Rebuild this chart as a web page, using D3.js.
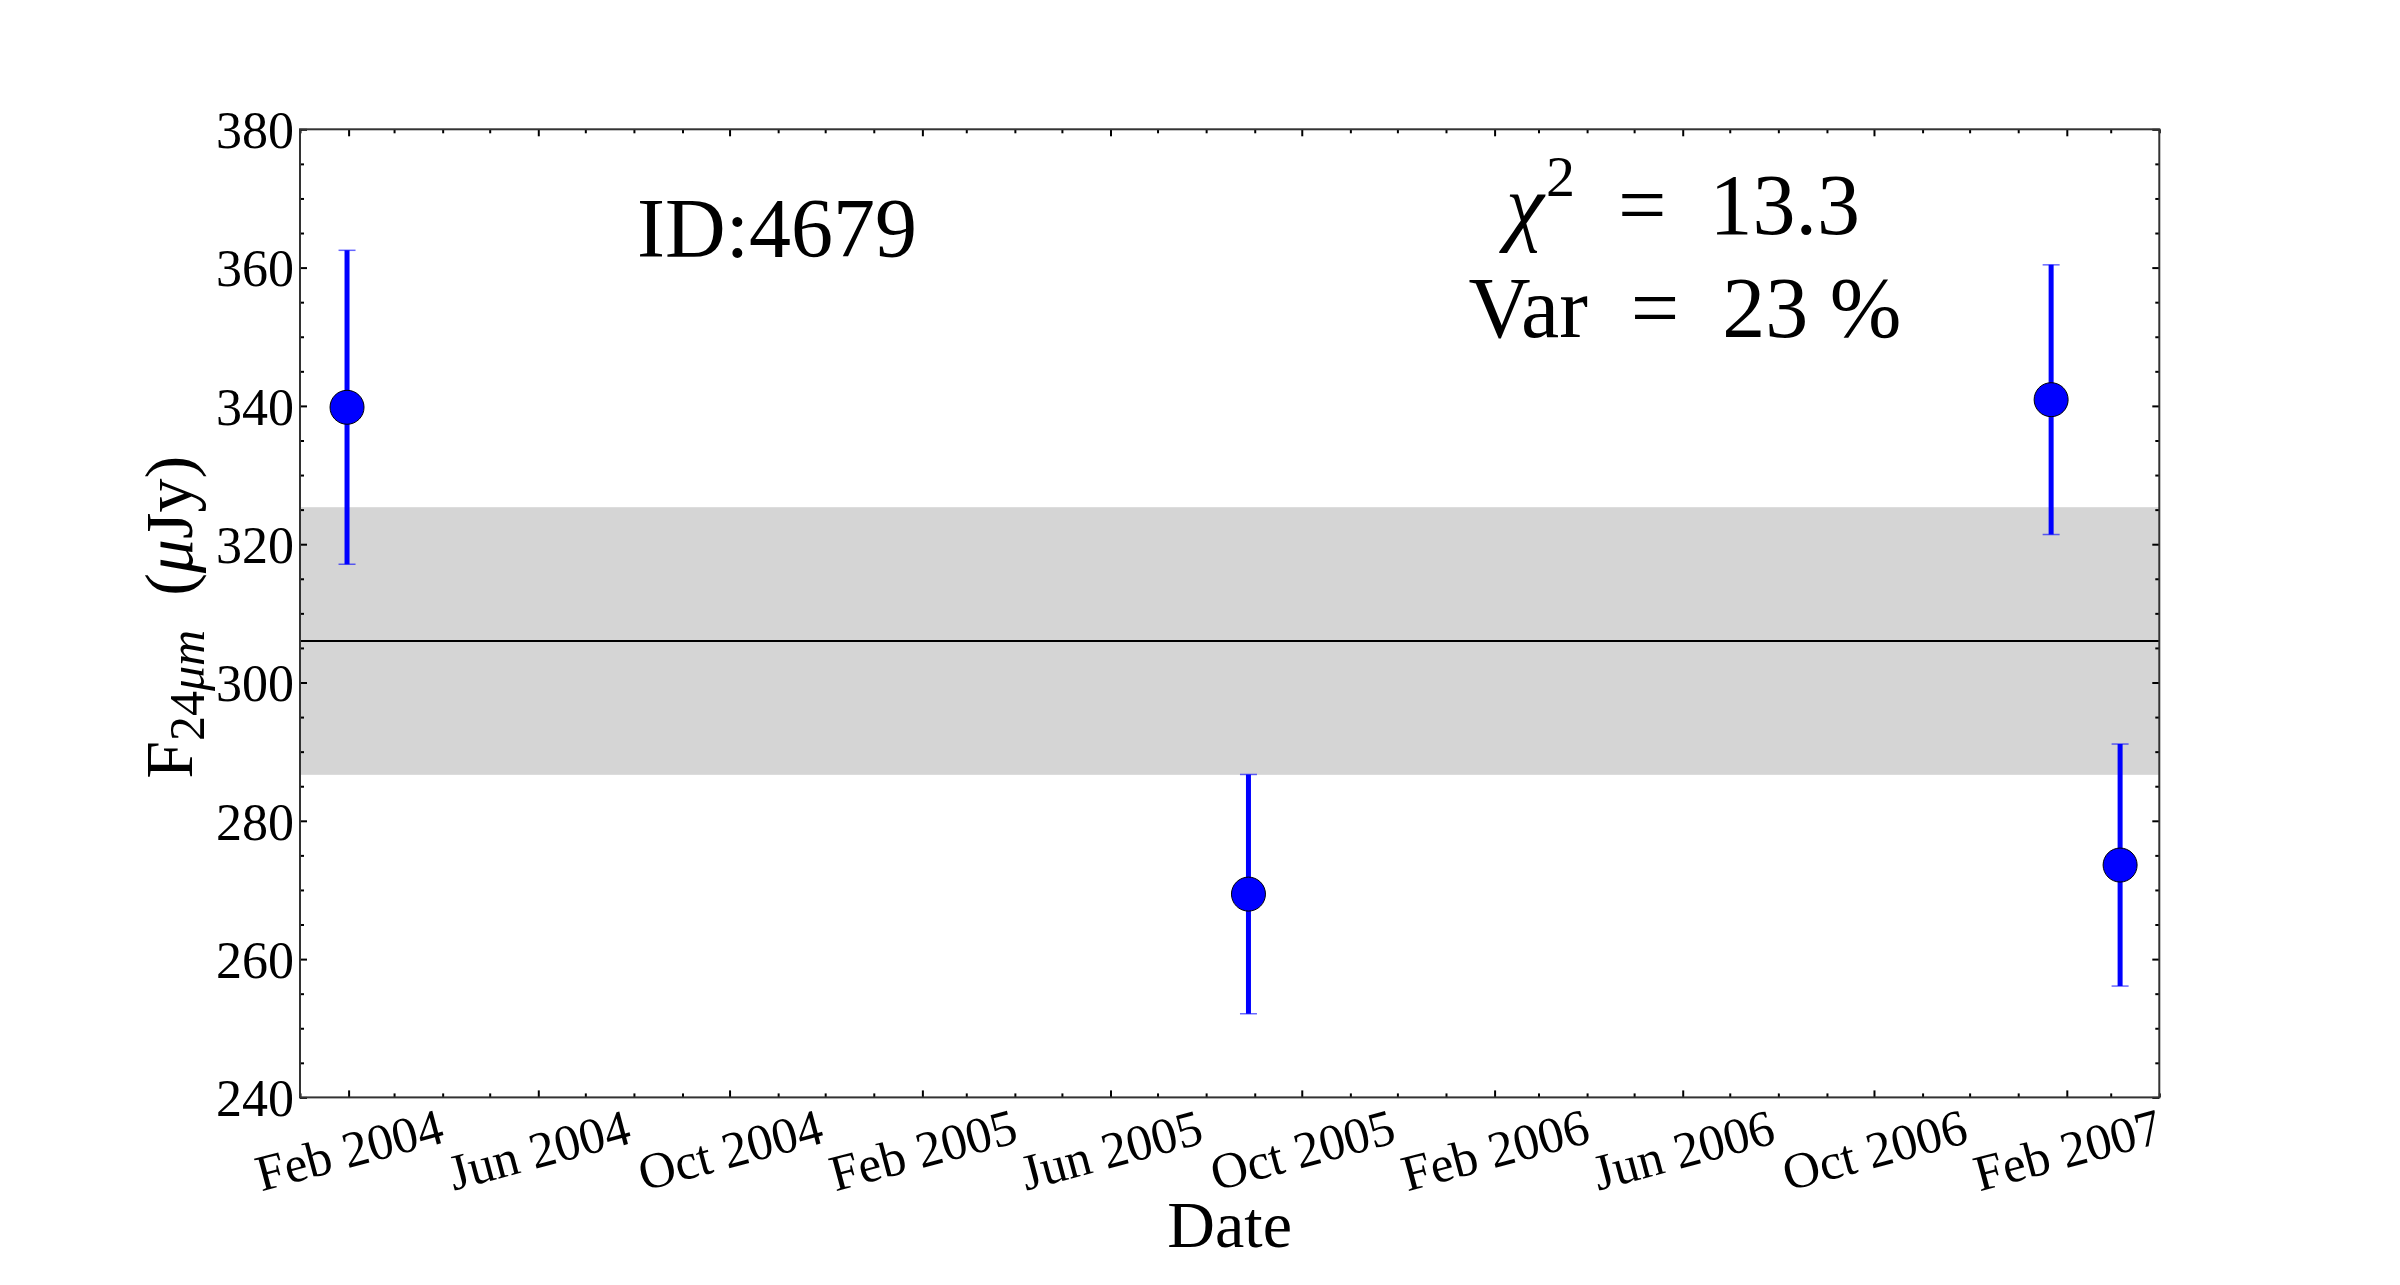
<!DOCTYPE html>
<html>
<head>
<meta charset="utf-8">
<script src="https://cdn.jsdelivr.net/npm/d3@7"></script>
<style>
  body { margin: 0; background: #fff; }
  text { font-family: 'Liberation Serif', 'DejaVu Serif', serif; fill: #000; }
</style>
</head>
<body>
<div class="container"></div>
<script>
// Observations (date, flux, 1-sigma error)
const obsDates = ['2004-01-31', '2005-08-28', '2007-01-22', '2007-03-07'];
const obsFlux = [339.8, 269.4, 340.9, 273.6];
const obsErr = [22.7, 17.3, 19.5, 17.5];
// Weighted mean and its band
const meanFlux = 306.0;
const meanBand = 19.35;
// Axis ranges and ticks
const xDomain = ['2004-01-01', '2007-04-01'];
const yDomain = [240, 380];
const yTicks = [240, 260, 280, 300, 320, 340, 360, 380];
const xTickLabels = ['Feb 2004', 'Jun 2004', 'Oct 2004', 'Feb 2005', 'Jun 2005',
  'Oct 2005', 'Feb 2006', 'Jun 2006', 'Oct 2006', 'Feb 2007'];
const idLabel = 'ID:4679';
const chi2Label = '13.3';
const varLabel = '23 %';

const w = 2400;
const h = 1285;
const pLeft = 300, pRight = 2159.3, pTop = 129.3, pBottom = 1097.4;

const parseDate = d3.timeParse('%Y-%m-%d');
const parseTick = d3.timeParse('%b %Y');

const svg = d3.select('.container')
  .append('svg')
  .attr('width', w)
  .attr('height', h)
  .style('display', 'block');

// Scales
const xScale = d3.scaleTime()
  .domain(xDomain.map(parseDate))
  .range([pLeft, pRight]);
const yScale = d3.scaleLinear()
  .domain(yDomain)
  .range([pBottom, pTop]);

// Band around the mean
svg.append('rect')
  .attr('x', pLeft)
  .attr('width', pRight - pLeft)
  .attr('y', yScale(meanFlux + meanBand))
  .attr('height', yScale(meanFlux - meanBand) - yScale(meanFlux + meanBand))
  .attr('fill', '#d5d5d5');

// Mean line
svg.append('line')
  .attr('x1', pLeft)
  .attr('x2', pRight)
  .attr('y1', yScale(meanFlux))
  .attr('y2', yScale(meanFlux))
  .attr('stroke', '#000')
  .attr('stroke-width', 2);

const data = obsDates.map((d, i) => ({ date: parseDate(d), flux: obsFlux[i], err: obsErr[i] }));

// Error bars
svg.selectAll('.ebar')
  .data(data)
  .enter()
  .append('line')
  .attr('class', 'ebar')
  .attr('x1', (d) => xScale(d.date))
  .attr('x2', (d) => xScale(d.date))
  .attr('y1', (d) => yScale(d.flux - d.err))
  .attr('y2', (d) => yScale(d.flux + d.err))
  .attr('stroke', '#0000ff')
  .attr('stroke-width', 5);
['lo', 'hi'].forEach((side) => {
  svg.selectAll('.cap-' + side)
    .data(data)
    .enter()
    .append('line')
    .attr('class', 'cap-' + side)
    .attr('x1', (d) => xScale(d.date) - 8.5)
    .attr('x2', (d) => xScale(d.date) + 8.5)
    .attr('y1', (d) => yScale(side === 'lo' ? d.flux - d.err : d.flux + d.err))
    .attr('y2', (d) => yScale(side === 'lo' ? d.flux - d.err : d.flux + d.err))
    .attr('stroke', '#0000ff')
    .attr('stroke-opacity', 0.6)
    .attr('stroke-width', 1.5);
});

// Points
svg.selectAll('.dot')
  .data(data)
  .enter()
  .append('circle')
  .attr('class', 'dot')
  .attr('cx', (d) => xScale(d.date))
  .attr('cy', (d) => yScale(d.flux))
  .attr('r', 17)
  .attr('fill', '#0000ff')
  .attr('stroke', '#000')
  .attr('stroke-width', 1);

// Tick positions
const majorX = xTickLabels.map(parseTick);
const minorX = d3.timeMonth.range(xScale.domain()[0], d3.timeDay.offset(xScale.domain()[1], 1))
  .filter((d) => !majorX.some((m) => +m === +d));
const minorY = d3.range(yDomain[0], yDomain[1] + 1, 5).filter((v) => yTicks.indexOf(v) < 0);

function styleAxis(g) {
  g.select('.domain').remove();
  g.selectAll('line').attr('stroke', '#000').attr('stroke-width', 2);
}

// Bottom axis
svg.append('g')
  .attr('transform', 'translate(0,' + pBottom + ')')
  .call(d3.axisBottom(xScale).tickValues(minorX).tickSize(-4).tickFormat(''))
  .call(styleAxis);
const xAxis = svg.append('g')
  .attr('transform', 'translate(0,' + pBottom + ')')
  .call(d3.axisBottom(xScale).tickValues(majorX).tickSize(-7).tickFormat(d3.timeFormat('%b %Y')))
  .call(styleAxis);
xAxis.selectAll('text')
  .attr('y', null)
  .attr('dy', '0.35em')
  .attr('transform', 'translate(0, 52) rotate(-15)')
  .style('font-size', '51px');

// Top axis (ticks only)
svg.append('g')
  .attr('transform', 'translate(0,' + pTop + ')')
  .call(d3.axisTop(xScale).tickValues(minorX).tickSize(-4).tickFormat(''))
  .call(styleAxis);
svg.append('g')
  .attr('transform', 'translate(0,' + pTop + ')')
  .call(d3.axisTop(xScale).tickValues(majorX).tickSize(-7).tickFormat(''))
  .call(styleAxis);

// Left axis
svg.append('g')
  .attr('transform', 'translate(' + pLeft + ',0)')
  .call(d3.axisLeft(yScale).tickValues(minorY).tickSize(-4).tickFormat(''))
  .call(styleAxis);
svg.append('g')
  .attr('transform', 'translate(' + pLeft + ',0)')
  .call(d3.axisLeft(yScale).tickValues(yTicks).tickSize(-7).tickPadding(6).tickFormat(d3.format('d')))
  .call(styleAxis)
  .selectAll('text')
  .style('font-size', '52px')
  .attr('dy', '0.35em');

// Right axis (ticks only)
svg.append('g')
  .attr('transform', 'translate(' + pRight + ',0)')
  .call(d3.axisRight(yScale).tickValues(minorY).tickSize(-4).tickFormat(''))
  .call(styleAxis);
svg.append('g')
  .attr('transform', 'translate(' + pRight + ',0)')
  .call(d3.axisRight(yScale).tickValues(yTicks).tickSize(-7).tickFormat(''))
  .call(styleAxis);

// Frame
svg.append('rect')
  .attr('x', pLeft)
  .attr('y', pTop)
  .attr('width', pRight - pLeft)
  .attr('height', pBottom - pTop)
  .attr('fill', 'none')
  .attr('stroke', '#333')
  .attr('stroke-width', 2);

// Axis labels
svg.append('text')
  .attr('x', (pLeft + pRight) / 2)
  .attr('y', 1247)
  .attr('text-anchor', 'middle')
  .style('font-size', '66px')
  .text('Date');

const yLabel = svg.append('text')
  .attr('transform', 'translate(192,' + ((pTop + pBottom) / 2 + 4) + ') rotate(-90)')
  .attr('text-anchor', 'middle')
  .style('font-size', '68px');
yLabel.append('tspan').text('F');
yLabel.append('tspan').attr('dy', 12).style('font-size', '50px').text('24');
yLabel.append('tspan').style('font-size', '50px').style('font-style', 'italic').text('\u03bcm');
yLabel.append('tspan').attr('dy', -12).text('\u2002(');
yLabel.append('tspan').style('font-style', 'italic').text('\u03bc');
yLabel.append('tspan').text('Jy)');

// Annotations
svg.append('text')
  .attr('x', 777)
  .attr('y', 257)
  .attr('text-anchor', 'middle')
  .style('font-size', '84px')
  .text(idLabel);

const chi = svg.append('text')
  .attr('x', 1683)
  .attr('y', 234)
  .attr('text-anchor', 'middle')
  .style('font-size', '86px');
chi.append('tspan').style('font-style', 'italic').text('\u03c7');
chi.append('tspan').attr('dx', 2).attr('dy', -38).style('font-size', '58px').text('2');
chi.append('tspan').attr('dy', 38).text('\u2002=\u2002' + chi2Label);

svg.append('text')
  .attr('x', 1685)
  .attr('y', 337)
  .attr('text-anchor', 'middle')
  .style('font-size', '86px')
  .text('Var\u2002=\u2002' + varLabel);
</script>
</body>
</html>
